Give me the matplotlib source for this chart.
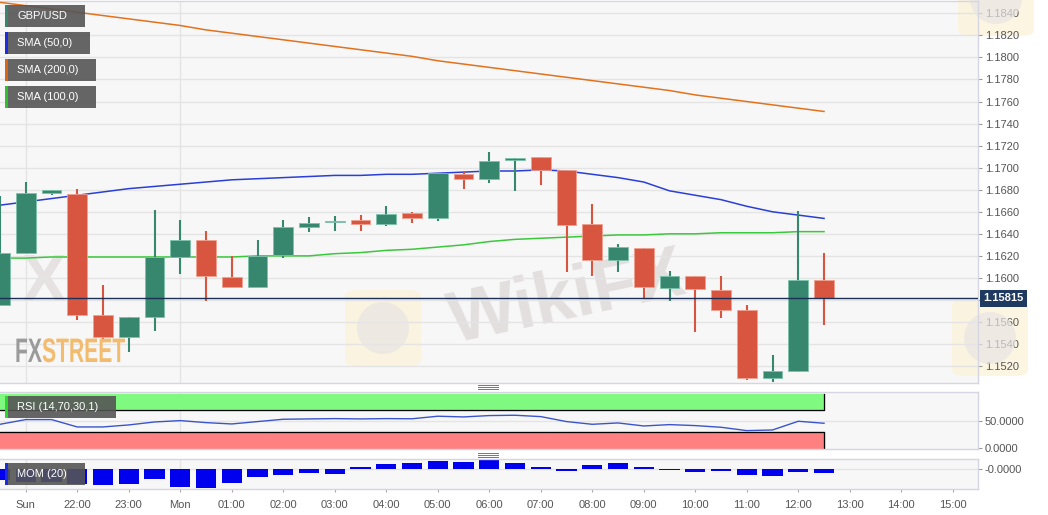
import matplotlib
matplotlib.use('Agg')
import matplotlib.pyplot as plt
from matplotlib.patches import Rectangle, FancyBboxPatch, Ellipse, PathPatch
from matplotlib.lines import Line2D
from matplotlib.textpath import TextPath
from matplotlib.font_manager import FontProperties
from matplotlib.transforms import Affine2D
import numpy as np

plt.rcParams['font.family'] = ['Liberation Sans', 'DejaVu Sans']

# GBP/USD 30 min candles, Sun 20:30 -> Mon 12:30
opens = [1.1575, 1.1623, 1.1677, 1.1676, 1.1566, 1.1546, 1.1565, 1.1619, 1.1634, 1.1601, 1.1592,
         1.1621, 1.1646, 1.1651, 1.1653, 1.1649, 1.1659, 1.1654, 1.1694, 1.1690, 1.1707, 1.1710,
         1.1698, 1.1649, 1.1616, 1.1627, 1.1591, 1.1602, 1.1589, 1.1571, 1.1509, 1.1516, 1.1598]
highs = [1.1674, 1.1687, 1.1680, 1.1681, 1.1594, 1.1565, 1.1662, 1.1653, 1.1643, 1.1620, 1.1634,
         1.1653, 1.1655, 1.1656, 1.1657, 1.1665, 1.1660, 1.1695, 1.1697, 1.1714, 1.1709, 1.1710,
         1.1698, 1.1667, 1.1631, 1.1627, 1.1606, 1.1602, 1.1602, 1.1575, 1.1530, 1.1661, 1.1623]
lows = [1.1575, 1.1623, 1.1675, 1.1562, 1.1543, 1.1533, 1.1552, 1.1604, 1.1579, 1.1592, 1.1592,
        1.1618, 1.1642, 1.1643, 1.1643, 1.1647, 1.1650, 1.1652, 1.1681, 1.1686, 1.1679, 1.1684,
        1.1605, 1.1602, 1.1605, 1.1582, 1.1579, 1.1551, 1.1564, 1.1507, 1.1506, 1.1515, 1.1557]
closes = [1.1623, 1.1677, 1.1680, 1.1566, 1.1546, 1.1565, 1.1619, 1.1634, 1.1602, 1.1592, 1.1620,
          1.1646, 1.1650, 1.1652, 1.1649, 1.1658, 1.1654, 1.1695, 1.1690, 1.1706, 1.1709, 1.1698,
          1.1648, 1.1616, 1.1628, 1.1592, 1.1602, 1.1590, 1.1571, 1.1509, 1.1516, 1.1598, 1.15815]

sma50 = [1.1666, 1.1669, 1.1672, 1.1675, 1.1678, 1.1681, 1.1683, 1.1685, 1.1687, 1.1689, 1.1690,
         1.1691, 1.1692, 1.1693, 1.1693, 1.1694, 1.1694, 1.1695, 1.1696, 1.1697, 1.1697, 1.1698,
         1.1697, 1.1694, 1.1691, 1.1687, 1.1679, 1.1675, 1.1671, 1.1665, 1.1660, 1.1657, 1.1654]
sma100 = [1.1618, 1.1618, 1.1619, 1.1619, 1.1619, 1.1619, 1.1619, 1.1619, 1.1619, 1.1619, 1.1620,
          1.1620, 1.1620, 1.1622, 1.1623, 1.1625, 1.1626, 1.1628, 1.1630, 1.1633, 1.1635, 1.1636,
          1.1637, 1.1638, 1.1639, 1.1639, 1.1640, 1.1640, 1.1641, 1.1641, 1.1641, 1.1642, 1.1642]
sma200 = [1.1850, 1.1847, 1.1844, 1.1841, 1.1838, 1.1835, 1.1832, 1.1829, 1.1825, 1.1822, 1.1819,
          1.1816, 1.1813, 1.1810, 1.1807, 1.1804, 1.1801, 1.1797, 1.1794, 1.1791, 1.1788, 1.1785,
          1.1782, 1.1779, 1.1776, 1.1773, 1.1770, 1.1766, 1.1763, 1.1760, 1.1757, 1.1754, 1.1751]

rsi = [43.8, 52.5, 52.5, 38.9, 38.9, 42.6, 48.1, 50.6, 46.9, 44.4, 48.8, 53.1, 53.7, 54.3, 53.7,
       54.3, 54.0, 58.7, 57.4, 59.9, 60.5, 58.0, 48.8, 43.8, 46.3, 40.7, 43.2, 41.4, 38.3, 32.1,
       33.3, 49.4, 45.7]
mom = [-0.0044, -0.0050, -0.0052, -0.0060, -0.0064, -0.0061, -0.0040, -0.0071, -0.0075, -0.0056,
       -0.0033, -0.0023, -0.0018, -0.0019, 0.0007, 0.0020, 0.0023, 0.0032, 0.0029, 0.0037, 0.0025,
       0.0007, -0.0009, 0.0015, 0.0023, 0.0009, -0.0005, -0.0012, -0.0009, -0.0023, -0.0028,
       -0.0013, -0.0018]

last_price = 1.15815
time_labels = ['Sun', '22:00', '23:00', 'Mon', '01:00', '02:00', '03:00', '04:00', '05:00', '06:00',
               '07:00', '08:00', '09:00', '10:00', '11:00', '12:00', '13:00', '14:00', '15:00']
price_ticks = [1.1520, 1.1540, 1.1560, 1.1580, 1.1600, 1.1620, 1.1640, 1.1660, 1.1680, 1.1700,
               1.1720, 1.1740, 1.1760, 1.1780, 1.1800, 1.1820, 1.1840]

GREEN = '#37876f'
RED = '#d85640'
BG = '#f7f7f7'
GRID = '#e4e4e4'
SPINE = '#d6d6e2'

W, H = 1048, 515
fig = plt.figure(figsize=(W / 100, H / 100), dpi=100)
fig.patch.set_facecolor('white')


def px(x0, y0, x1, y1):
    return [x0 / W, 1 - y1 / H, (x1 - x0) / W, (y1 - y0) / H]


ax = fig.add_axes(px(0, 1, 978, 383))
ax_rsi = fig.add_axes(px(0, 391.7, 978, 449.3), sharex=ax)
ax_mom = fig.add_axes(px(0, 458.7, 978, 489.3), sharex=ax)

x = np.arange(len(opens))
o = np.array(opens)
c = np.array(closes)
col = np.where(c >= o, GREEN, RED)
edge = np.where(c >= o, '#7cc2ac', '#f0a090')

for a in (ax, ax_rsi, ax_mom):
    a.set_facecolor(BG)
    for s in a.spines.values():
        s.set_color(SPINE)
        s.set_linewidth(1)
    a.spines['left'].set_visible(False)
    a.yaxis.tick_right()
    a.tick_params(axis='y', colors='#999999', labelcolor='#555555', labelsize=8, length=3, pad=2)
    a.axvline(1, color=GRID, lw=1, zorder=0)
    a.axvline(7, color=GRID, lw=1, zorder=0)

# watermarks (behind the marks, drawn in figure pixels)
ax.text(0.58, 0.22, 'WikiFX', transform=ax.transAxes, fontsize=52, fontweight='bold',
        color='#e4dfdf', rotation=12, ha='center', va='center', zorder=0)
ax.text(0.045, 0.26, 'X', transform=ax.transAxes, fontsize=48, fontweight='bold',
        color='#e6e2e2', ha='center', va='center', zorder=0)
for bx, by in [(345, 290), (952, 300), (958, -40)]:
    l, b, w, h = px(bx, by, bx + 76, by + 76)
    ax.add_patch(FancyBboxPatch((l, b), w, h, boxstyle='round,pad=0,rounding_size=0.012',
                                transform=fig.transFigure, facecolor='#faf2d8', edgecolor='none',
                                alpha=0.75, zorder=0.5, clip_on=False))
    ax.add_patch(Ellipse(((bx + 38) / W, 1 - (by + 38) / H), 52 / W, 52 / H,
                         transform=fig.transFigure, facecolor='#e9e4e4', edgecolor='none',
                         alpha=0.7, zorder=0.6, clip_on=False))

bold = FontProperties(family='Liberation Sans', weight='bold')
for word, x0, colr in [('FX', 15, '#9b9b9b'), ('STREET', 42, '#f2bb6e')]:
    tp = TextPath((0, 0), word, size=34, prop=bold)
    tr = Affine2D().scale(0.62, 1.0).translate(x0, H - 362)
    fig.add_artist(PathPatch(tr.transform_path(tp), facecolor=colr, edgecolor='none',
                             transform=None, zorder=1))

ax.set_axisbelow(True)
ax.yaxis.grid(True, color=GRID, lw=1)
ax.set_yticks(price_ticks)
ax.set_yticklabels(['' if abs(t - 1.158) < 1e-6 else '%.4f' % t for t in price_ticks])
ax.set_ylim(1.15047, 1.18512)
ax.set_xlim(0.0, 37.98)

ax.plot(x, sma200, color='#e2721e', lw=1.1, zorder=3)
ax.plot(x, sma100, color='#3cc83c', lw=1.1, zorder=3)
ax.plot(x, sma50, color='#2a3fd6', lw=1.1, zorder=3)

ax.vlines(x, lows, highs, colors=col, lw=1.5, zorder=4)
ax.bar(x, np.maximum(np.abs(c - o), 0.00004), bottom=np.minimum(o, c), width=0.76,
       color=col, edgecolor=edge, linewidth=0.6, zorder=5)

ax.axhline(last_price, color='#1c2f57', lw=1, zorder=6)
ax.annotate('%.5f' % last_price, xy=(1.0, last_price), xycoords=('axes fraction', 'data'),
            xytext=(4, 0), textcoords='offset points', va='center', ha='left', fontsize=8,
            fontweight='bold', color='white', annotation_clip=False,
            bbox=dict(boxstyle='square,pad=0.3', facecolor='#1e3a60', edgecolor='none'))
ax.tick_params(axis='x', bottom=False, labelbottom=False)

# RSI panel
ax_rsi.fill_between([0, x[-1]], 70, 100, color='#80f980', zorder=1)
ax_rsi.fill_between([0, x[-1]], 0, 30, color='#ff8080', zorder=1)
ax_rsi.plot([0, x[-1], x[-1]], [70, 70, 100], color='black', lw=0.9, zorder=2)
ax_rsi.plot([0, x[-1], x[-1]], [30, 30, 0], color='black', lw=0.9, zorder=2)
ax_rsi.axhline(50, color=GRID, lw=1, zorder=0)
ax_rsi.plot(x, rsi, color='#3a55cc', lw=1, zorder=3)
ax_rsi.set_ylim(-2.4, 104)
ax_rsi.set_yticks([0, 50])
ax_rsi.set_yticklabels(['0.0000', '50.0000'])
ax_rsi.tick_params(axis='x', bottom=False, labelbottom=False)

# MOM panel
ax_mom.axhline(0, color=GRID, lw=1, zorder=0)
ax_mom.bar(x, mom, width=0.78, color='#0000ee', zorder=2)
ax_mom.set_ylim(-0.0081, 0.0041)
ax_mom.set_yticks([0])
ax_mom.set_yticklabels(['-0.0000'])
ax_mom.set_xticks(np.arange(1, 38, 2))
ax_mom.set_xticklabels(time_labels)
ax_mom.tick_params(axis='x', colors='#aaaaaa', labelcolor='#555555', labelsize=8, length=2.5, pad=5)


# legend boxes
def label_box(x0, y0, x1, y1, stripe, text):
    l, b, w, h = px(x0, y0, x1, y1)
    fig.add_artist(Rectangle((l, b), w, h, transform=fig.transFigure, facecolor='#555555',
                             alpha=0.9, edgecolor='none', zorder=10))
    l, b, w, h = px(x0, y0, x0 + 3, y1)
    fig.add_artist(Rectangle((l, b), w, h, transform=fig.transFigure, facecolor=stripe,
                             edgecolor='none', zorder=11))
    fig.text((x0 + 12) / W, 1 - (y0 + y1) / 2 / H, text, color='white', fontsize=8,
             va='center', ha='left', zorder=12)


label_box(5, 5, 85, 27, GREEN, 'GBP/USD')
label_box(5, 32, 90, 54, '#1a2ee0', 'SMA (50,0)')
label_box(5, 59, 96, 81, '#d8641a', 'SMA (200,0)')
label_box(5, 86, 96, 108, '#2fbf2f', 'SMA (100,0)')
label_box(5, 396, 116, 418, '#2fd62f', 'RSI (14,70,30,1)')
label_box(5, 463, 85, 485, '#1a2ee0', 'MOM (20)')

# panel splitters
for yy in (387, 455):
    for k in (-2, 0, 2):
        fig.add_artist(Line2D([478 / W, 498 / W], [1 - (yy + k) / H] * 2,
                              transform=fig.transFigure, color='#777777', lw=0.7))

fig.savefig('out.png', dpi=100, facecolor='white')
